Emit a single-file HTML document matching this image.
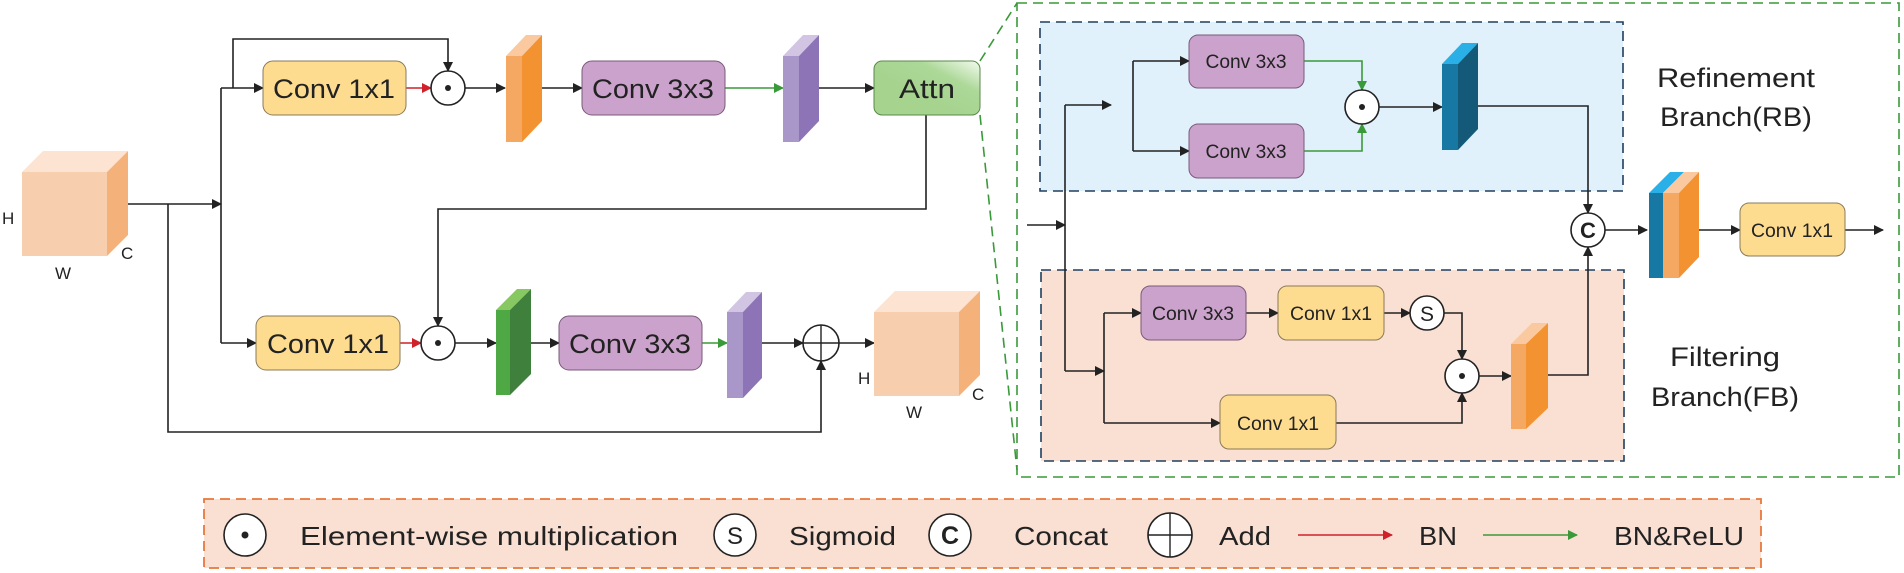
<!DOCTYPE html>
<html><head><meta charset="utf-8"><style>html,body{margin:0;padding:0;background:#fff}svg{display:block}text{font-family:"Liberation Sans",sans-serif;fill:#222}</style></head><body>
<svg width="1904" height="573" viewBox="0 0 1904 573" xmlns="http://www.w3.org/2000/svg">
<defs>
<marker id="ak" markerWidth="10" markerHeight="10" refX="9" refY="5" orient="auto" markerUnits="userSpaceOnUse"><path d="M0,0 L10,5 L0,10 z" fill="#222"/></marker>
<marker id="ar" markerWidth="10" markerHeight="10" refX="9" refY="5" orient="auto" markerUnits="userSpaceOnUse"><path d="M0,0 L10,5 L0,10 z" fill="#d0202a"/></marker>
<marker id="ag" markerWidth="10" markerHeight="10" refX="9" refY="5" orient="auto" markerUnits="userSpaceOnUse"><path d="M0,0 L10,5 L0,10 z" fill="#3a9a3a"/></marker>
<linearGradient id="attn" x1="1" y1="0" x2="0.4" y2="0.6"><stop offset="0" stop-color="#f4fbef"/><stop offset="0.5" stop-color="#acd898"/><stop offset="1" stop-color="#a6d48f"/></linearGradient>
</defs>
<!-- big boxes -->
<rect x="1017" y="3" width="882" height="474" fill="none" stroke="#3a9a3a" stroke-width="1.6" stroke-dasharray="10,6"/>
<line x1="980" y1="61" x2="1017" y2="3" stroke="#3a9a3a" stroke-width="1.6" stroke-dasharray="10,6"/>
<line x1="980" y1="115" x2="1017" y2="470" stroke="#3a9a3a" stroke-width="1.6" stroke-dasharray="10,6"/>
<rect x="1040" y="22" width="583" height="169" fill="#e0f1fb" stroke="#1f3f5f" stroke-width="1.6" stroke-dasharray="10,6"/>
<rect x="1041" y="270" width="583" height="191" fill="#fadfd3" stroke="#1f3f5f" stroke-width="1.6" stroke-dasharray="10,6"/>
<rect x="204" y="499" width="1557" height="69" fill="#fadfd3" stroke="#e8783a" stroke-width="1.8" stroke-dasharray="10,6"/>

<g stroke="#222" stroke-width="1.6" fill="none">
<!-- left part lines -->
<polyline points="128,204 221,204" marker-end="url(#ak)"/>
<polyline points="221,88 221,343"/>
<polyline points="221,88 263,88" marker-end="url(#ak)"/>
<polyline points="233,88 233,39 448,39 448,71" marker-end="url(#ak)"/>
<polyline points="465,88 505,88" marker-end="url(#ak)"/>
<polyline points="542,88 582,88" marker-end="url(#ak)"/>
<polyline points="819,88 874,88" marker-end="url(#ak)"/>
<polyline points="926,115 926,209 438,209 438,326" marker-end="url(#ak)"/>
<polyline points="221,343 256,343" marker-end="url(#ak)"/>
<polyline points="455,343 496,343" marker-end="url(#ak)"/>
<polyline points="531,343 559,343" marker-end="url(#ak)"/>
<polyline points="762,343 803,343" marker-end="url(#ak)"/>
<polyline points="839,343 874,343" marker-end="url(#ak)"/>
<polyline points="168,204 168,432 821,432 821,361" marker-end="url(#ak)"/>
<!-- right part lines -->
<polyline points="1027,225 1065,225" marker-end="url(#ak)"/>
<polyline points="1065,105 1065,371"/>
<polyline points="1065,105 1111,105" marker-end="url(#ak)"/>
<polyline points="1133,61 1133,151"/>
<polyline points="1133,61 1189,61" marker-end="url(#ak)"/>
<polyline points="1133,151 1189,151" marker-end="url(#ak)"/>
<polyline points="1379,107 1442,107" marker-end="url(#ak)"/>
<polyline points="1478,106 1588,106 1588,213" marker-end="url(#ak)"/>
<polyline points="1065,371 1104,371" marker-end="url(#ak)"/>
<polyline points="1104,313 1104,423"/>
<polyline points="1104,313 1141,313" marker-end="url(#ak)"/>
<polyline points="1246,313 1278,313" marker-end="url(#ak)"/>
<polyline points="1384,313 1410,313" marker-end="url(#ak)"/>
<polyline points="1444,313 1462,313 1462,359" marker-end="url(#ak)"/>
<polyline points="1104,423 1220,423" marker-end="url(#ak)"/>
<polyline points="1336,423 1462,423 1462,393" marker-end="url(#ak)"/>
<polyline points="1479,376 1511,376" marker-end="url(#ak)"/>
<polyline points="1548,375 1588,375 1588,247" marker-end="url(#ak)"/>
<polyline points="1605,230 1647,230" marker-end="url(#ak)"/>
<polyline points="1699,230 1740,230" marker-end="url(#ak)"/>
<polyline points="1845,230 1883,230" marker-end="url(#ak)"/>
</g>
<g stroke-width="1.6" fill="none">
<line x1="406" y1="88" x2="431" y2="88" stroke="#d0202a" marker-end="url(#ar)"/>
<line x1="400" y1="343" x2="421" y2="343" stroke="#d0202a" marker-end="url(#ar)"/>
<line x1="725" y1="88" x2="783" y2="88" stroke="#3a9a3a" marker-end="url(#ag)"/>
<line x1="702" y1="343" x2="727" y2="343" stroke="#3a9a3a" marker-end="url(#ag)"/>
<polyline points="1304,61 1362,61 1362,90" stroke="#3a9a3a" marker-end="url(#ag)"/>
<polyline points="1304,151 1362,151 1362,124" stroke="#3a9a3a" marker-end="url(#ag)"/>
<line x1="1298" y1="535" x2="1392" y2="535" stroke="#d0202a" marker-end="url(#ar)"/>
<line x1="1483" y1="535" x2="1577" y2="535" stroke="#3a9a3a" marker-end="url(#ag)"/>
</g>

<!-- cubes -->
<g>
<polygon points="22,172 43,151 128,151 107,172" fill="#fce3d2"/>
<polygon points="107,172 128,151 128,235 107,256" fill="#f4b27a"/>
<rect x="22" y="172" width="85" height="84" fill="#f7cfae"/>
<polygon points="874,312 895,291 980,291 959,312" fill="#fce3d2"/>
<polygon points="959,312 980,291 980,375 959,396" fill="#f4b27a"/>
<rect x="874" y="312" width="85" height="84" fill="#f7cfae"/>
</g>
<g font-size="17">
<text x="2" y="224">H</text><text x="55" y="279">W</text><text x="121" y="259">C</text>
<text x="858" y="384">H</text><text x="906" y="418">W</text><text x="972" y="400">C</text>
</g>

<!-- slabs -->
<g>
<polygon points="506,56 526,35 542,35 522,56" fill="#fac9a0"/><polygon points="522,56 542,35 542,121 522,142" fill="#f39230"/><rect x="506" y="56" width="16" height="86" fill="#f5a862"/>
<polygon points="783,56 803,35 819,35 799,56" fill="#d2c5e3"/><polygon points="799,56 819,35 819,121 799,142" fill="#8c74b6"/><rect x="783" y="56" width="16" height="86" fill="#a897c8"/>
<polygon points="496,310 517,289 531,289 510,310" fill="#88c862"/><polygon points="510,310 531,289 531,374 510,395" fill="#3e803c"/><rect x="496" y="310" width="14" height="85" fill="#4ea844"/>
<polygon points="727,312 746,292 762,292 743,312" fill="#d2c5e3"/><polygon points="743,312 762,292 762,378 743,398" fill="#8c74b6"/><rect x="727" y="312" width="16" height="86" fill="#a897c8"/>
<polygon points="1442,64 1462,43 1478,43 1458,64" fill="#2ab0e6"/><polygon points="1458,64 1478,43 1478,129 1458,150" fill="#145a78"/><rect x="1442" y="64" width="16" height="86" fill="#1878a4"/>
<polygon points="1511,344 1532,323 1548,323 1526,344" fill="#fac9a0"/><polygon points="1526,344 1548,323 1548,408 1526,429" fill="#f39230"/><rect x="1511" y="344" width="15" height="85" fill="#f5a862"/>
<polygon points="1649,193 1670,172 1684,172 1663,193" fill="#2ab0e6"/><polygon points="1663,193 1684,172 1699,172 1679,193" fill="#fac9a0"/><polygon points="1679,193 1699,172 1699,257 1679,278" fill="#f39230"/><rect x="1649" y="193" width="14" height="85" fill="#1878a4"/><rect x="1663" y="193" width="16" height="85" fill="#f5a862"/>
</g>

<!-- boxes -->
<g stroke="#8a7a5a" stroke-width="1">
<rect x="263" y="61" width="143" height="54" rx="10" fill="#fddc8f"/>
<rect x="582" y="61" width="143" height="54" rx="10" fill="#cba2cb" stroke="#7a5a7a"/>
<rect x="874" y="61" width="106" height="54" rx="8" fill="url(#attn)" stroke="#5a8a4a"/>
<rect x="256" y="316" width="144" height="54" rx="10" fill="#fddc8f"/>
<rect x="559" y="316" width="143" height="54" rx="10" fill="#cba2cb" stroke="#7a5a7a"/>
<rect x="1189" y="35" width="115" height="53" rx="9" fill="#cba2cb" stroke="#7a5a7a"/>
<rect x="1189" y="124" width="115" height="54" rx="9" fill="#cba2cb" stroke="#7a5a7a"/>
<rect x="1141" y="286" width="105" height="54" rx="9" fill="#cba2cb" stroke="#7a5a7a"/>
<rect x="1278" y="286" width="106" height="54" rx="9" fill="#fddc8f"/>
<rect x="1220" y="395" width="116" height="54" rx="9" fill="#fddc8f"/>
<rect x="1740" y="203" width="105" height="53" rx="9" fill="#fddc8f"/>
</g>
<g font-size="27" text-anchor="middle" lengthAdjust="spacingAndGlyphs">
<text x="334" y="98" textLength="122" lengthAdjust="spacingAndGlyphs">Conv 1x1</text>
<text x="653" y="98" textLength="122" lengthAdjust="spacingAndGlyphs">Conv 3x3</text>
<text x="927" y="98" textLength="56" lengthAdjust="spacingAndGlyphs">Attn</text>
<text x="328" y="353" textLength="122" lengthAdjust="spacingAndGlyphs">Conv 1x1</text>
<text x="630" y="353" textLength="122" lengthAdjust="spacingAndGlyphs">Conv 3x3</text>
</g>
<g font-size="19" text-anchor="middle">
<text x="1246" y="68" textLength="81" lengthAdjust="spacingAndGlyphs">Conv 3x3</text>
<text x="1246" y="158" textLength="81" lengthAdjust="spacingAndGlyphs">Conv 3x3</text>
<text x="1193" y="320" textLength="82" lengthAdjust="spacingAndGlyphs">Conv 3x3</text>
<text x="1331" y="320" textLength="82" lengthAdjust="spacingAndGlyphs">Conv 1x1</text>
<text x="1278" y="430" textLength="82" lengthAdjust="spacingAndGlyphs">Conv 1x1</text>
<text x="1792" y="237" textLength="82" lengthAdjust="spacingAndGlyphs">Conv 1x1</text>
</g>
<g font-size="27">
<text x="1657" y="87" textLength="158" lengthAdjust="spacingAndGlyphs">Refinement</text>
<text x="1660" y="126" textLength="152" lengthAdjust="spacingAndGlyphs">Branch(RB)</text>
<text x="1670" y="366" textLength="110" lengthAdjust="spacingAndGlyphs">Filtering</text>
<text x="1651" y="406" textLength="148" lengthAdjust="spacingAndGlyphs">Branch(FB)</text>
</g>

<!-- operator circles -->
<g stroke="#222" stroke-width="1.6" fill="#fff">
<circle cx="448" cy="88" r="17"/><circle cx="438" cy="343" r="17"/>
<circle cx="821" cy="343" r="18"/>
<circle cx="1362" cy="107" r="17"/><circle cx="1588" cy="230" r="17"/>
<circle cx="1427" cy="313" r="17"/><circle cx="1462" cy="376" r="17"/>
<circle cx="245" cy="535" r="21"/><circle cx="735" cy="535" r="21"/><circle cx="950" cy="535" r="21"/><circle cx="1170" cy="535" r="22"/>
</g>
<g fill="#222">
<circle cx="448" cy="88" r="3"/><circle cx="438" cy="343" r="3"/><circle cx="1362" cy="107" r="3"/><circle cx="1462" cy="376" r="3"/><circle cx="245" cy="535" r="3.5"/>
</g>
<g stroke="#222" stroke-width="1.4">
<line x1="803" y1="343" x2="839" y2="343"/><line x1="821" y1="325" x2="821" y2="361"/>
<line x1="1148" y1="535" x2="1192" y2="535"/><line x1="1170" y1="513" x2="1170" y2="557"/>
</g>
<g text-anchor="middle" font-weight="bold">
<text x="1588" y="238" font-size="22">C</text>
<text x="1427" y="321" font-size="21" font-weight="normal">S</text>
<text x="735" y="544" font-size="24" font-weight="normal">S</text>
<text x="950" y="544" font-size="25">C</text>
</g>
<g font-size="26">
<text x="300" y="545" textLength="378" lengthAdjust="spacingAndGlyphs">Element-wise multiplication</text>
<text x="789" y="545" textLength="107" lengthAdjust="spacingAndGlyphs">Sigmoid</text>
<text x="1014" y="545" textLength="94" lengthAdjust="spacingAndGlyphs">Concat</text>
<text x="1219" y="545" textLength="52" lengthAdjust="spacingAndGlyphs">Add</text>
<text x="1419" y="545" textLength="38" lengthAdjust="spacingAndGlyphs">BN</text>
<text x="1614" y="545" textLength="130" lengthAdjust="spacingAndGlyphs">BN&amp;ReLU</text>
</g>
</svg>
</body></html>
